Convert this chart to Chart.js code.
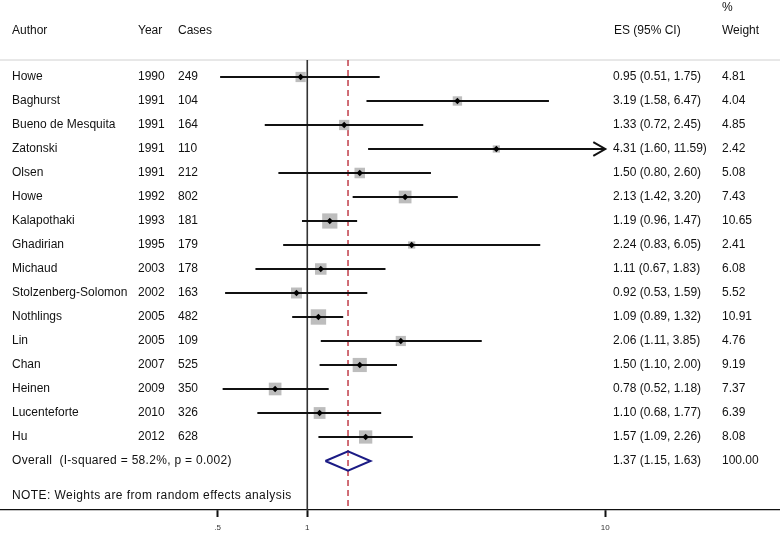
<!DOCTYPE html>
<html>
<head>
<meta charset="utf-8">
<script src="https://cdn.jsdelivr.net/npm/chart.js@4/dist/chart.umd.min.js"></script>
<style>
html,body{margin:0;padding:0;background:#fff;}
#wrap{width:780px;height:533px;}
</style>
</head>
<body>
<div id="wrap"><canvas id="c" width="780" height="533"></canvas></div>
<script>
const authors = ['Howe','Baghurst','Bueno de Mesquita','Zatonski','Olsen','Howe','Kalapothaki','Ghadirian','Michaud','Stolzenberg-Solomon','Nothlings','Lin','Chan','Heinen','Lucenteforte','Hu'];
const years = [1990,1991,1991,1991,1991,1992,1993,1995,2003,2002,2005,2005,2007,2009,2010,2012];
const cases = [249,104,164,110,212,802,181,179,178,163,482,109,525,350,326,628];
const es = [0.95,3.19,1.33,4.31,1.50,2.13,1.19,2.24,1.11,0.92,1.09,2.06,1.50,0.78,1.10,1.57];
const lower = [0.51,1.58,0.72,1.60,0.80,1.42,0.96,0.83,0.67,0.53,0.89,1.11,1.10,0.52,0.68,1.09];
const upper = [1.75,6.47,2.45,11.59,2.60,3.20,1.47,6.05,1.83,1.59,1.32,3.85,2.00,1.18,1.77,2.26];
const weights = [4.81,4.04,4.85,2.42,5.08,7.43,10.65,2.41,6.08,5.52,10.91,4.76,9.19,7.37,6.39,8.08];
const overallLabel = 'Overall  (I-squared = 58.2%, p = 0.002)';
const overallES = 1.37, overallLo = 1.15, overallHi = 1.63, overallWeight = 100.00;
const noteText = 'NOTE: Weights are from random effects analysis';
const tickValues = [0.5, 1, 10];
const tickLabels = ['.5', '1', '10'];
const clipMax = 10;

const X_MIN = 0.0931, X_MAX = 38.57;
const Y_MIN = -3.208, Y_MAX = 18.042;
const nStudies = authors.length;
const overallRow = nStudies;
const noteRow = 17.46, headRow = -1.917, pctRow = -2.875, topLineRow = -0.708;
const FONT = '12px "Liberation Sans", Arial, sans-serif';

const datasets = [];
// reference lines
datasets.push({type:'line', data:[{x:X_MIN,y:topLineRow},{x:X_MAX,y:topLineRow}], borderColor:'#d0d0d0', borderWidth:1, pointRadius:0, order:9});
datasets.push({type:'line', data:[{x:1,y:topLineRow},{x:1,y:Y_MAX}], borderColor:'#333', borderWidth:1.6, pointRadius:0, order:8});
datasets.push({type:'line', data:[{x:overallES,y:topLineRow},{x:overallES,y:Y_MAX}], borderColor:'#b8202e', borderWidth:1.3, borderDash:[6,4], pointRadius:0, order:7});
// squares
datasets.push({type:'scatter', data: es.map((v,i)=>({x:v,y:i})), pointStyle:'rect',
  pointRadius: weights.map(w=>3.3*Math.sqrt(w)), backgroundColor:'#bdbdbd', borderColor:'#bdbdbd', borderWidth:0, order:6});
// CI lines
es.forEach((v,i)=>{
  datasets.push({type:'line', data:[{x:lower[i],y:i},{x:Math.min(upper[i],clipMax),y:i}], borderColor:'#111', borderWidth:2, pointRadius:0, order:5});
  if (upper[i] > clipMax) {
    const back = Math.pow(10, 1 - 12/298);
    datasets.push({type:'line', data:[{x:back,y:i-0.29},{x:clipMax,y:i},{x:back,y:i+0.29}], borderColor:'#111', borderWidth:2, pointRadius:0, order:5});
  }
});
// center points
datasets.push({type:'scatter', data: es.map((v,i)=>({x:v,y:i})), pointStyle:'rectRot', pointRadius:3.2, backgroundColor:'#000', borderColor:'#000', borderWidth:0, order:4});
// overall diamond
datasets.push({type:'line', data:[{x:overallLo,y:overallRow},{x:overallES,y:overallRow-0.4},{x:overallHi,y:overallRow},{x:overallES,y:overallRow+0.4},{x:overallLo,y:overallRow}],
  borderColor:'#1b1b85', borderWidth:2, pointRadius:0, tension:0, order:3});

const textPlugin = {
  id:'forestText',
  afterDatasetsDraw(chart){
    const ctx = chart.ctx, ys = chart.scales.y;
    ctx.save();
    ctx.font = FONT; ctx.fillStyle = '#111'; ctx.textBaseline = 'middle'; ctx.textAlign = 'left';
    const put = (t,x,row,ls)=>{ ctx.letterSpacing = ls || '0px'; ctx.fillText(t, x, ys.getPixelForValue(row)); };
    put('Author',12,headRow); put('Year',138,headRow); put('Cases',178,headRow);
    put('ES (95% CI)',614,headRow); put('Weight',722,headRow); put('%',722,pctRow);
    for (let i=0;i<nStudies;i++){
      put(authors[i],12,i); put(String(years[i]),138,i); put(String(cases[i]),178,i);
      put(`${es[i].toFixed(2)} (${lower[i].toFixed(2)}, ${upper[i].toFixed(2)})`,613,i);
      put(weights[i].toFixed(2),722,i);
    }
    put(overallLabel,12,overallRow,'0.3px');
    put(`${overallES.toFixed(2)} (${overallLo.toFixed(2)}, ${overallHi.toFixed(2)})`,613,overallRow);
    put(overallWeight.toFixed(2),722,overallRow);
    put(noteText,12,noteRow,'0.42px');
    ctx.restore();
  }
};

new Chart(document.getElementById('c'), {
  data:{datasets},
  options:{
    responsive:false, animation:false,
    layout:{padding:0, autoPadding:false},
    plugins:{legend:{display:false}, tooltip:{enabled:false}},
    scales:{
      x:{type:'logarithmic', min:X_MIN, max:X_MAX, position:'bottom',
        afterBuildTicks(s){ s.ticks = tickValues.map(v=>({value:v})); },
        afterFit(s){ s.height = 23; },
        ticks:{autoSkip:false, maxRotation:0, padding:6, color:'#333', font:{size:8, family:'"Liberation Sans", Arial'},
          callback(v){ const k = tickValues.indexOf(v); return k>=0 ? tickLabels[k] : ''; }},
        grid:{drawOnChartArea:false, drawTicks:true, tickLength:7, tickWidth:2, color:'#111'},
        border:{display:true, color:'#111', width:1.2}
      },
      y:{type:'linear', reverse:true, min:Y_MIN, max:Y_MAX, display:false}
    }
  },
  plugins:[textPlugin]
});
</script>
</body>
</html>
